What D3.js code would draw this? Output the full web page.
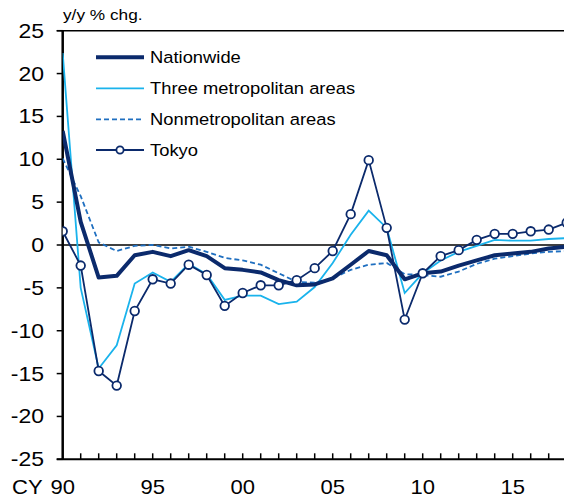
<!DOCTYPE html>
<html>
<head>
<meta charset="utf-8">
<script src="https://cdn.jsdelivr.net/npm/d3@7"></script>
<style>
  html, body { margin: 0; padding: 0; background: #fff; }
  svg { display: block; }
  text { font-family: Arial, "Liberation Sans", sans-serif; fill: #000; }
</style>
</head>
<body>
<svg id="chart" width="564" height="498"></svg>
<script>
// Land prices, year-on-year % change
const years = [1990,1991,1992,1993,1994,1995,1996,1997,1998,1999,2000,2001,2002,2003,2004,2005,2006,2007,2008,2009,2010,2011,2012,2013,2014,2015,2016,2017,2018];
const nationwide = [13.3,2.7,-3.8,-3.6,-1.2,-0.8,-1.3,-0.6,-1.3,-2.7,-2.9,-3.2,-4.1,-4.7,-4.6,-3.9,-2.3,-0.7,-1.2,-4.0,-3.3,-3.1,-2.4,-1.8,-1.2,-1.0,-0.8,-0.4,-0.2];
const threeMetro = [22.4,-5.0,-14.4,-11.7,-4.5,-3.2,-4.3,-2.2,-3.4,-6.4,-5.9,-5.9,-6.9,-6.6,-4.9,-2.1,1.2,4.0,2.0,-5.6,-3.3,-1.8,-0.8,-0.1,0.6,0.5,0.5,0.7,0.8];
const nonMetro = [10.1,5.7,0.3,-0.7,-0.1,0.0,-0.4,-0.2,-0.8,-1.5,-1.8,-2.3,-3.3,-4.3,-4.4,-3.9,-2.9,-2.3,-2.1,-3.4,-3.5,-3.7,-3.1,-2.2,-1.6,-1.3,-1.0,-0.8,-0.7];
const tokyo = [1.6,-2.4,-14.7,-16.4,-7.7,-4.0,-4.5,-2.3,-3.5,-7.1,-5.6,-4.7,-4.7,-4.1,-2.7,-0.7,3.6,9.9,2.0,-8.7,-3.3,-1.3,-0.6,0.6,1.3,1.3,1.6,1.8,2.6];
const yTicks = [-25,-20,-15,-10,-5,0,5,10,15,20,25];
const xLabelYears = [1990,1995,2000,2005,2010,2015];
const xLabels = ["90","95","00","05","10","15"];
const seriesNames = ["Nationwide","Three metropolitan areas","Nonmetropolitan areas","Tokyo"];

const colors = {
  nation: "#0b2a6c",
  metro: "#1ab3ec",
  nonmetro: "#1f6fc0",
  tokyo: "#0b2a6c"
};

const svg = d3.select("#chart");
const plotLeft = 62.7, plotTop = 30.7, plotBottom = 459.3, plotRight = 564;

const x = d3.scaleLinear().domain([1990, 2018]).range([plotLeft, plotLeft + 28 * 18]);
const y = d3.scaleLinear().domain([-25, 25]).range([plotBottom, plotTop]);

svg.append("defs").append("clipPath").attr("id", "plot")
  .append("rect").attr("x", plotLeft).attr("y", plotTop - 10)
  .attr("width", plotRight - plotLeft).attr("height", plotBottom - plotTop + 20);

// y axis ticks and labels
const yAxis = svg.append("g");
yAxis.selectAll("line").data(yTicks).join("line")
  .attr("x1", plotLeft - 6).attr("x2", plotLeft)
  .attr("y1", d => y(d)).attr("y2", d => y(d))
  .attr("stroke", "#000").attr("stroke-width", 1.5);
yAxis.selectAll("text").data(yTicks).join("text")
  .attr("transform", d => `translate(44,${y(d) + 7}) scale(1.15,1)`)
  .attr("text-anchor", "end")
  .style("font-size", "20px")
  .text(d => d);

// top border
svg.append("line").attr("x1", plotLeft - 6).attr("x2", plotRight).attr("y1", plotTop).attr("y2", plotTop)
  .attr("stroke", "#000").attr("stroke-width", 1.5);

// zero line
svg.append("line").attr("x1", plotLeft).attr("x2", plotRight).attr("y1", y(0)).attr("y2", y(0))
  .attr("stroke", "#000").attr("stroke-width", 1.5);

// x axis: yearly ticks pointing inward
const xAxis = svg.append("g");
xAxis.selectAll("line").data(years.filter(d => d > 1990)).join("line")
  .attr("x1", d => x(d)).attr("x2", d => x(d))
  .attr("y1", plotBottom - 6).attr("y2", plotBottom)
  .attr("stroke", "#000").attr("stroke-width", 1.5);
xAxis.selectAll("text").data(xLabelYears).join("text")
  .attr("transform", d => `translate(${x(d)},494) scale(1.1,1)`)
  .attr("text-anchor", "middle")
  .style("font-size", "20px")
  .text((d, i) => xLabels[i]);
svg.append("text")
  .attr("transform", "translate(12,494) scale(1.1,1)")
  .style("font-size", "20px")
  .text("CY");

svg.append("line").attr("x1", plotLeft - 6).attr("x2", plotRight).attr("y1", plotBottom).attr("y2", plotBottom)
  .attr("stroke", "#000").attr("stroke-width", 2);
svg.append("line").attr("x1", plotLeft).attr("x2", plotLeft).attr("y1", plotTop).attr("y2", plotBottom)
  .attr("stroke", "#000").attr("stroke-width", 2.5);

// axis title
svg.append("text")
  .attr("transform", "translate(63,20) scale(1.15,1)")
  .style("font-size", "15px")
  .text("y/y % chg.");

// series
const line = d3.line().x((d, i) => x(years[i])).y(d => y(d));
const plot = svg.append("g").attr("clip-path", "url(#plot)");

plot.append("path").datum(threeMetro).attr("d", line)
  .attr("fill", "none").attr("stroke", colors.metro).attr("stroke-width", 1.8);
plot.append("path").datum(nonMetro).attr("d", line)
  .attr("fill", "none").attr("stroke", colors.nonmetro).attr("stroke-width", 1.8)
  .attr("stroke-dasharray", "5,3");
plot.append("path").datum(nationwide).attr("d", line)
  .attr("fill", "none").attr("stroke", colors.nation).attr("stroke-width", 4)
  .attr("stroke-linejoin", "round");
plot.append("path").datum(tokyo).attr("d", line)
  .attr("fill", "none").attr("stroke", colors.tokyo).attr("stroke-width", 1.8);
plot.selectAll("circle").data(tokyo).join("circle")
  .attr("cx", (d, i) => x(years[i])).attr("cy", d => y(d)).attr("r", 4.3)
  .attr("fill", "#fff").attr("stroke", colors.tokyo).attr("stroke-width", 1.8);

// legend
const legend = svg.append("g");
const legendY = [57.3, 88.3, 119.3, 150];
const styles = [
  { c: colors.nation, w: 4, dash: null },
  { c: colors.metro, w: 1.8, dash: null },
  { c: colors.nonmetro, w: 1.8, dash: "5,3" },
  { c: colors.tokyo, w: 1.8, dash: null }
];
seriesNames.forEach((name, i) => {
  const g = legend.append("g").attr("transform", `translate(0,${legendY[i]})`);
  g.append("line").attr("x1", 96).attr("x2", 144).attr("y1", 0).attr("y2", 0)
    .attr("stroke", styles[i].c).attr("stroke-width", styles[i].w)
    .attr("stroke-dasharray", styles[i].dash);
  if (i === 3) {
    g.append("circle").attr("cx", 120).attr("cy", 0).attr("r", 3.6)
      .attr("fill", "#fff").attr("stroke", styles[i].c).attr("stroke-width", 1.8);
  }
  g.append("text")
    .attr("transform", "translate(150,6) scale(1.08,1)")
    .style("font-size", "17px")
    .text(name);
});
</script>
</body>
</html>
